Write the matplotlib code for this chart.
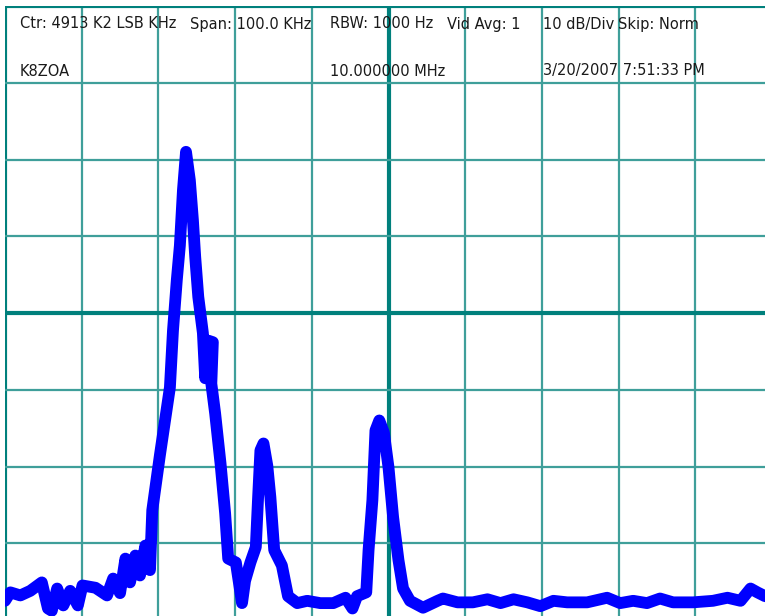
import matplotlib
matplotlib.use("Agg")
import matplotlib.pyplot as plt

# trace: frequency offset from 10.000000 MHz (kHz) and level (dB, top line = 0)
freq_khz = [-50.0, -49.3, -48.0, -46.7, -45.2, -44.4, -43.9, -43.2, -42.4, -41.5,
            -40.5, -39.9, -38.2, -36.7, -35.9, -35.0, -34.3, -33.7, -33.0, -32.4,
            -31.7, -31.1, -30.8, -29.8, -28.5, -28.1, -27.6, -27.2, -26.8, -26.4,
            -25.9, -25.5, -25.2, -24.8, -24.2, -23.9, -23.5, -22.9, -23.1, -22.6,
            -21.9, -21.3, -20.9, -19.9, -19.1, -18.7, -18.0, -17.3, -17.0, -16.7,
            -16.3, -15.8, -15.4, -14.9, -13.9, -13.1, -11.9, -10.6, -8.9, -7.2,
            -5.6, -4.7, -4.1, -2.9, -2.6, -2.1, -1.7, -1.2, -0.6, 0.0,
            0.6, 1.3, 1.9, 2.8, 4.5, 6.4, 7.1, 9.0, 11.0, 12.9,
            14.6, 16.3, 18.1, 19.8, 21.5, 23.3, 25.9, 28.5, 30.2, 31.9,
            33.7, 35.4, 37.1, 39.7, 42.3, 44.2, 45.9, 47.2, 48.1, 49.1]
level_db = [-77.5, -76.4, -76.8, -76.2, -75.1, -78.5, -78.8, -75.9, -78.1, -76.2,
            -78.1, -75.5, -75.8, -76.8, -74.6, -76.5, -72.0, -75.1, -71.6, -74.2,
            -70.3, -73.5, -65.7, -58.5, -49.7, -42.3, -35.7, -31.2, -24.0, -19.0,
            -22.7, -27.9, -32.7, -37.9, -42.6, -48.5, -43.6, -43.8, -49.2, -53.1,
            -59.6, -66.1, -72.0, -72.5, -77.8, -74.9, -72.5, -70.5, -64.0, -57.9,
            -57.0, -59.9, -64.0, -70.9, -72.9, -76.9, -77.8, -77.5, -77.8, -77.8,
            -77.1, -78.5, -76.9, -76.4, -70.9, -64.4, -55.3, -54.0, -55.6, -60.1,
            -66.6, -72.2, -75.9, -77.5, -78.4, -77.5, -77.2, -77.7, -77.7, -77.3,
            -77.8, -77.3, -77.7, -78.2, -77.5, -77.7, -77.7, -77.1, -77.8, -77.5,
            -77.8, -77.2, -77.7, -77.7, -77.5, -77.1, -77.5, -75.9, -76.4, -76.9]

x_ticks = list(range(-50, 51, 10))
y_ticks = list(range(-80, 1, 10))

header1 = [(20, "Ctr: 4913 K2 LSB KHz"), (190, "Span: 100.0 KHz"), (330, "RBW: 1000 Hz"),
           (447, "Vid Avg: 1"), (543, "10 dB/Div"), (618, "Skip: Norm")]
header2 = [(20, "K8ZOA"), (330, "10.000000 MHz"), (543, "3/20/2007 7:51:33 PM")]

W, H = 765, 616
fig = plt.figure(figsize=(W / 100, H / 100), dpi=100)
fig.patch.set_facecolor("white")
ax = fig.add_axes([5 / W, -4 / H, 767 / W, 614 / H])
ax.set_xlim(-50, 50)
ax.set_ylim(-80, 0)
ax.set_xticks([]); ax.set_yticks([])
for s in ax.spines.values():
    s.set_visible(False)

thin = "#3f9f9a"
thick = "#00807c"
for x in x_ticks:
    if x == 0 or x == -50:
        ax.axvline(x, color=thick, lw=3.0, zorder=1)
    else:
        ax.axvline(x, color=thin, lw=1.6, zorder=1)
for y in y_ticks:
    if y == -40 or y == 0:
        ax.axhline(y, color=thick, lw=3.0, zorder=1)
    else:
        ax.axhline(y, color=thin, lw=1.6, zorder=1)

ax.plot(freq_khz, level_db, color="#0000ff", lw=8.5,
        solid_joinstyle="round", solid_capstyle="round", zorder=3)

for px, s in header1:
    fig.text(px / W, 1 - 24 / H, s, fontsize=10.5, color="#1a1a1a",
             ha="left", va="center", family="DejaVu Sans", zorder=5)
for px, s in header2:
    fig.text(px / W, 1 - 71 / H, s, fontsize=10.5, color="#1a1a1a",
             ha="left", va="center", family="DejaVu Sans", zorder=5)

fig.savefig("out.png", dpi=100, facecolor="white")
